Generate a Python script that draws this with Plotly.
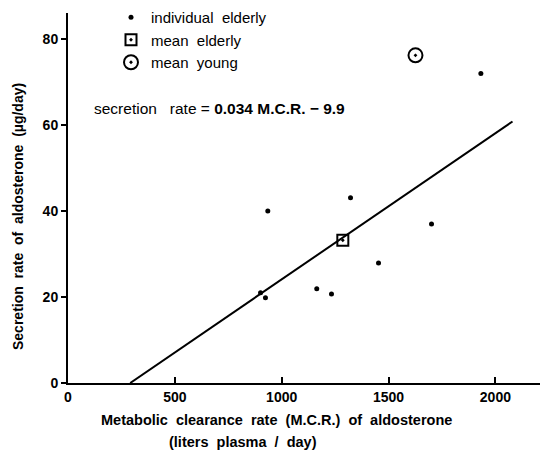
import plotly.graph_objects as go

# Data
indiv_x = [935, 901, 924, 1164, 1233, 1453, 1701, 1322, 1932]
indiv_y = [40, 21.0, 19.8, 21.9, 20.7, 27.9, 37.0, 43.1, 72]
mean_elderly_x = [1286]
mean_elderly_y = [33.2]
mean_young_x = [1626]
mean_young_y = [76.2]
slope = 0.034
intercept = -9.9
line_x = [-intercept / slope, 2080]
line_y = [slope * v + intercept for v in line_x]

x_ticks = [0, 500, 1000, 1500, 2000]
y_ticks = [0, 20, 40, 60, 80]

FONT = "Liberation Sans"
W, H = 548, 450
OFF = 8  # page body margin offset
L, R, T, B = 60, 8, 5, 75
PW, PH = W - L - R, H - T - B


def px(xp):
    return (xp - OFF - L) / PW


def py(yp):
    return (H - B - (yp - OFF)) / PH


fig = go.Figure()
fig.add_trace(go.Scatter(x=line_x, y=line_y, mode="lines",
                         line=dict(color="black", width=2), showlegend=False))
fig.add_trace(go.Scatter(x=indiv_x, y=indiv_y, mode="markers", name="individual&nbsp;&nbsp;elderly",
                         marker=dict(color="black", size=5, symbol="circle")))
fig.add_trace(go.Scatter(x=mean_elderly_x, y=mean_elderly_y, mode="markers", name="mean&nbsp;&nbsp;elderly",
                         marker=dict(color="black", size=11, symbol="square-open-dot",
                                     line=dict(width=2, color="black"))))
fig.add_trace(go.Scatter(x=mean_young_x, y=mean_young_y, mode="markers", name="mean&nbsp;&nbsp;young",
                         marker=dict(color="black", size=14, symbol="circle-open-dot",
                                     line=dict(width=2, color="black"))))

fig.update_layout(
    width=W, height=H,
    margin=dict(l=L, r=R, t=T, b=B, autoexpand=False),
    plot_bgcolor="white", paper_bgcolor="white",
    font=dict(family=FONT, size=14, color="black"),
    legend=dict(x=px(111), y=py(1), xanchor="left", yanchor="top",
                bgcolor="rgba(0,0,0,0)", font=dict(size=15), itemwidth=30,
                tracegroupgap=0, borderwidth=0),
    xaxis=dict(range=[0, PW / 0.2137], tickvals=x_ticks, ticktext=[f"<b>{v}</b>" for v in x_ticks],
               showline=True, linewidth=2, linecolor="black", ticks="inside",
               ticklen=6, tickwidth=2, tickcolor="black", showgrid=False, zeroline=False),
    yaxis=dict(range=[0, PH / 4.3], tickvals=y_ticks, ticktext=[f"<b>{v}</b>" for v in y_ticks],
               showline=True, linewidth=2, linecolor="black", ticks="outside",
               ticklen=5, tickwidth=2, tickcolor="black", showgrid=False, zeroline=False),
    annotations=[
        dict(text="secretion&nbsp;&nbsp;&nbsp;rate = <b>0.034 M.C.R. − 9.9</b>", xref="paper", yref="paper",
             x=px(92), y=py(108), xanchor="left", yanchor="middle",
             showarrow=False, font=dict(size=15.5)),
        dict(text="<b>Metabolic&nbsp;&nbsp;clearance&nbsp;&nbsp;rate&nbsp;&nbsp;(M.C.R.)&nbsp;&nbsp;of&nbsp;&nbsp;aldosterone</b>",
             xref="paper", yref="paper", x=px(276), y=py(420),
             xanchor="center", yanchor="middle", showarrow=False, font=dict(size=14.5)),
        dict(text="<b>(liters&nbsp;&nbsp;plasma&nbsp;&nbsp;/&nbsp;&nbsp;day)</b>",
             xref="paper", yref="paper", x=px(243), y=py(442),
             xanchor="center", yanchor="middle", showarrow=False, font=dict(size=14.5)),
        dict(text="<b>Secretion&nbsp;&nbsp;rate&nbsp;&nbsp;of&nbsp;&nbsp;aldosterone&nbsp;&nbsp;(µg/day)</b>",
             xref="paper", yref="paper", x=px(18), y=py(217),
             xanchor="center", yanchor="middle", textangle=-90, showarrow=False,
             font=dict(size=14)),
    ],
)
fig.write_html("out.html")
